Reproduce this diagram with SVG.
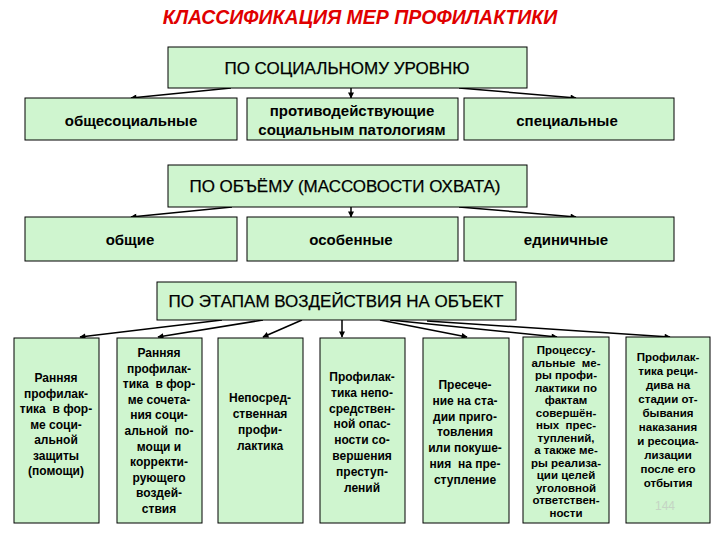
<svg xmlns="http://www.w3.org/2000/svg" width="720" height="540" viewBox="0 0 720 540">
<style>
.box{fill:#cff5cf;stroke:#000;stroke-width:1}
.hd{font-family:"Liberation Sans",Arial,sans-serif;font-size:17px;fill:#000;stroke:#000;stroke-width:0.25;text-anchor:middle}
.t1{font-family:"Liberation Sans",Arial,sans-serif;font-size:15px;font-weight:bold;fill:#000;text-anchor:middle}
.t2{font-family:"Liberation Sans",Arial,sans-serif;font-size:12px;font-weight:bold;fill:#000;text-anchor:middle}
.t3{font-family:"Liberation Sans",Arial,sans-serif;font-size:11.5px;font-weight:bold;fill:#000;text-anchor:middle}
.title{font-family:"Liberation Sans",Arial,sans-serif;font-size:19.5px;font-weight:bold;font-style:italic;fill:#e00000;text-anchor:middle}
.con line{stroke:#000;stroke-width:1.5;marker-end:url(#arr)}
</style>
<defs>
<marker id="arr" viewBox="0 0 10 10" refX="9" refY="5" markerWidth="7" markerHeight="6" markerUnits="userSpaceOnUse" orient="auto">
<path d="M0,0 L10,5 L0,10 z" fill="#000"/>
</marker>
</defs>
<rect width="720" height="540" fill="#fff"/>
<text class="title" x="360" y="24">КЛАССИФИКАЦИЯ МЕР ПРОФИЛАКТИКИ</text>

<g id="connectors" class="con">
<line x1="231" y1="88" x2="131" y2="98"/>
<line x1="351" y1="88" x2="351" y2="98"/>
<line x1="459" y1="88" x2="576" y2="98"/>
<line x1="232" y1="207" x2="131" y2="217"/>
<line x1="351" y1="207" x2="351" y2="217"/>
<line x1="459" y1="207" x2="576" y2="217"/>
<line x1="222" y1="320" x2="80" y2="337"/>
<line x1="263" y1="320" x2="158" y2="337"/>
<line x1="302" y1="320" x2="263" y2="337"/>
<line x1="342" y1="320" x2="342" y2="337"/>
<line x1="380" y1="320" x2="467" y2="337"/>
<line x1="390" y1="320" x2="557" y2="337"/>
<line x1="427" y1="321" x2="670" y2="337"/>
</g>

<g id="social">
<rect class="box" x="168" y="47" width="359" height="41"/>
<text class="hd" x="347" y="74">ПО СОЦИАЛЬНОМУ УРОВНЮ</text>
</g>
<g id="obshchesots">
<rect class="box" x="25" y="98" width="212" height="42"/>
<text class="t1" x="131" y="126">общесоциальные</text>
</g>
<g id="protivodeystv">
<rect class="box" x="247" y="98" width="211" height="42"/>
<text class="t1" x="352" y="116">противодействующие</text>
<text class="t1" x="352" y="135">социальным патологиям</text>
</g>
<g id="spetsialnye">
<rect class="box" x="464" y="98" width="210" height="42"/>
<text class="t1" x="567" y="126">специальные</text>
</g>

<g id="volume">
<rect class="box" x="168" y="165" width="359" height="42"/>
<text class="hd" x="345" y="192">ПО ОБЪЁМУ (МАССОВОСТИ ОХВАТА)</text>
</g>
<g id="obshchie">
<rect class="box" x="25" y="217" width="212" height="44"/>
<text class="t1" x="130" y="245">общие</text>
</g>
<g id="osobennye">
<rect class="box" x="247" y="217" width="211" height="44"/>
<text class="t1" x="351" y="245">особенные</text>
</g>
<g id="edinichnye">
<rect class="box" x="464" y="217" width="210" height="44"/>
<text class="t1" x="566" y="245">единичные</text>
</g>

<g id="stages">
<rect class="box" x="157" y="282" width="359" height="38"/>
<text class="hd" x="336" y="307">ПО ЭТАПАМ ВОЗДЕЙСТВИЯ НА ОБЪЕКТ</text>
</g>

<g id="b1">
<rect class="box" x="14" y="338" width="85" height="185"/>
<text class="t2" x="56" y="382">
<tspan x="56">Ранняя</tspan><tspan x="56" dy="15.5">профилак-</tspan><tspan x="56" dy="15.5">тика&#160; в фор-</tspan><tspan x="56" dy="15.5">ме соци-</tspan><tspan x="56" dy="15.5">альной</tspan><tspan x="56" dy="15.5">защиты</tspan><tspan x="56" dy="15.5">(помощи)</tspan>
</text>
</g>
<g id="b2">
<rect class="box" x="117" y="338" width="85" height="185"/>
<text class="t2" x="159" y="357">
<tspan x="159">Ранняя</tspan><tspan x="159" dy="15.6">профилак-</tspan><tspan x="159" dy="15.6">тика&#160; в фор-</tspan><tspan x="159" dy="15.6">ме сочета-</tspan><tspan x="159" dy="15.6">ния соци-</tspan><tspan x="159" dy="15.6">альной&#160; по-</tspan><tspan x="159" dy="15.6">мощи и</tspan><tspan x="159" dy="15.6">корректи-</tspan><tspan x="159" dy="15.6">рующего</tspan><tspan x="159" dy="15.6">воздей-</tspan><tspan x="159" dy="15.6">ствия</tspan>
</text>
</g>
<g id="b3">
<rect class="box" x="218" y="338" width="85" height="185"/>
<text class="t2" x="260" y="402">
<tspan x="260">Непосред-</tspan><tspan x="260" dy="16">ственная</tspan><tspan x="260" dy="16">профи-</tspan><tspan x="260" dy="16">лактика</tspan>
</text>
</g>
<g id="b4">
<rect class="box" x="320" y="338" width="85" height="185"/>
<text class="t2" x="362" y="381">
<tspan x="362">Профилак-</tspan><tspan x="362" dy="15.8">тика непо-</tspan><tspan x="362" dy="15.8">средствен-</tspan><tspan x="362" dy="15.8">ной опас-</tspan><tspan x="362" dy="15.8">ности со-</tspan><tspan x="362" dy="15.8">вершения</tspan><tspan x="362" dy="15.8">преступ-</tspan><tspan x="362" dy="15.8">лений</tspan>
</text>
</g>
<g id="b5">
<rect class="box" x="423" y="338" width="86" height="185"/>
<text class="t2" x="465" y="389">
<tspan x="465">Пресече-</tspan><tspan x="465" dy="15.8">ние на ста-</tspan><tspan x="465" dy="15.8">дии приго-</tspan><tspan x="465" dy="15.8">товления</tspan><tspan x="465" dy="15.8">или покуше-</tspan><tspan x="465" dy="15.8">ния&#160; на пре-</tspan><tspan x="465" dy="15.8">ступление</tspan>
</text>
</g>
<g id="b6">
<rect class="box" x="523" y="337" width="86" height="186"/>
<text class="t3" x="566" y="354">
<tspan x="566">Процессу-</tspan><tspan x="566" dy="12.5">альные&#160; ме-</tspan><tspan x="566" dy="12.5">ры профи-</tspan><tspan x="566" dy="12.5">лактики по</tspan><tspan x="566" dy="12.5">фактам</tspan><tspan x="566" dy="12.5">совершён-</tspan><tspan x="566" dy="12.5">ных&#160; прес-</tspan><tspan x="566" dy="12.5">туплений,</tspan><tspan x="566" dy="12.5">а также ме-</tspan><tspan x="566" dy="12.5">ры реализа-</tspan><tspan x="566" dy="12.5">ции целей</tspan><tspan x="566" dy="12.5">уголовной</tspan><tspan x="566" dy="12.5">ответствен-</tspan><tspan x="566" dy="12.5">ности</tspan>
</text>
</g>
<g id="b7">
<rect class="box" x="626" y="337" width="84" height="186"/>
<text class="t3" x="668" y="361">
<tspan x="668">Профилак-</tspan><tspan x="668" dy="14">тика реци-</tspan><tspan x="668" dy="14">дива на</tspan><tspan x="668" dy="14">стадии от-</tspan><tspan x="668" dy="14">бывания</tspan><tspan x="668" dy="14">наказания</tspan><tspan x="668" dy="14">и ресоциа-</tspan><tspan x="668" dy="14">лизации</tspan><tspan x="668" dy="14">после его</tspan><tspan x="668" dy="14">отбытия</tspan>
</text>
<text x="665" y="510" font-family="Liberation Sans, Arial, sans-serif" font-size="12" fill="#c4d4c4" text-anchor="middle">144</text>
</g>
</svg>
